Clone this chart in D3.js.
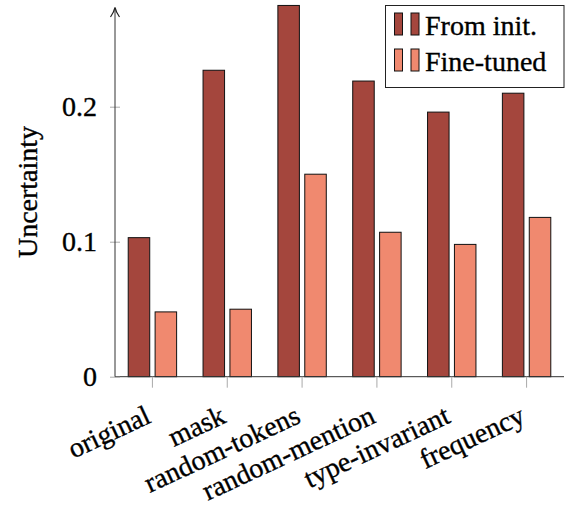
<!DOCTYPE html>
<html>
<head>
<meta charset="utf-8">
<script src="https://cdn.jsdelivr.net/npm/d3@7"></script>
<style>
  html, body { margin: 0; padding: 0; background: #fff; }
  text { font-family: "Liberation Serif", "DejaVu Serif", serif; fill: #000; stroke: #000; stroke-width: 0.35px; }
</style>
</head>
<body>
<div id="chart"></div>
<script>
// data
const categories = ["original", "mask", "random-tokens", "random-mention", "type-invariant", "frequency"];
const seriesNames = ["From init.", "Fine-tuned"];
const fromInit = [0.103, 0.227, 0.275, 0.219, 0.196, 0.210];
const fineTuned = [0.048, 0.050, 0.150, 0.107, 0.098, 0.118];
const yTicks = [0, 0.1, 0.2];
const colors = ["#a4463d", "#f0896f"];

const width = 566, height = 506;

const svg = d3.select("#chart").append("svg")
  .attr("width", width)
  .attr("height", height);

const x = d3.scaleBand().domain(categories).range([115, 564]).padding(0);
const xInner = d3.scaleBand().domain(seriesNames).range([-24.2, 24.2]).paddingInner(0.2);
const y = d3.scaleLinear().domain([0, 0.275]).range([376.7, 5.45]);

const rows = categories.map((c, i) => ({ cat: c, vals: [fromInit[i], fineTuned[i]] }));

// bars
const groups = svg.append("g").selectAll("g")
  .data(rows)
  .join("g")
  .attr("transform", d => `translate(${x(d.cat) + x.bandwidth() / 2},0)`);

groups.selectAll("rect")
  .data(d => d.vals.map((v, k) => ({ name: seriesNames[k], v: v, k: k })))
  .join("rect")
  .attr("x", d => xInner(d.name))
  .attr("width", xInner.bandwidth())
  .attr("y", d => y(d.v))
  .attr("height", d => y(0) - y(d.v))
  .attr("fill", d => colors[d.k])
  .attr("stroke", "#111")
  .attr("stroke-width", 1);

// x axis
const xAxis = d3.axisBottom(x).tickSize(11).tickFormat("");
const gx = svg.append("g")
  .attr("transform", `translate(0,${y(0)})`)
  .call(xAxis);
gx.select(".domain").attr("stroke", "#333").attr("d", `M${x.range()[0]},0H${x.range()[1]}`);
gx.selectAll(".tick line").attr("stroke", "#aaa");

svg.append("g").selectAll("text")
  .data(categories)
  .join("text")
  .attr("transform", d => `translate(${x(d) + x.bandwidth() / 2},422) rotate(-25)`)
  .attr("text-anchor", "end")
  .attr("font-size", 28)
  .text(d => d);

// y axis
const yAxis = d3.axisLeft(y).tickValues(yTicks).tickSize(5)
  .tickFormat(d => d === 0 ? "0" : d3.format(".1f")(d));
const gy = svg.append("g")
  .attr("transform", `translate(115,0)`)
  .call(yAxis);
gy.select(".domain").remove();
gy.selectAll(".tick line").attr("stroke", "#aaa").attr("x1", -5).attr("x2", 5);
gy.selectAll(".tick text")
  .attr("x", -18)
  .attr("font-size", 28)
  .attr("font-family", "Liberation Serif, serif")
  .attr("dy", "0.32em");

svg.append("line")
  .attr("x1", 115).attr("x2", 115)
  .attr("y1", y(0)).attr("y2", 8)
  .attr("stroke", "#333").attr("stroke-width", 1);
svg.append("path")
  .attr("d", "M110.5,17 Q114,12 115,7.5 Q116,12 119.5,17")
  .attr("fill", "none")
  .attr("stroke", "#222")
  .attr("stroke-width", 1.2);

svg.append("text")
  .attr("transform", `translate(37,192) rotate(-90)`)
  .attr("text-anchor", "middle")
  .attr("font-size", 28)
  .text("Uncertainty");

// legend
const legend = svg.append("g");
legend.append("rect")
  .attr("x", 385.5).attr("y", 5.5)
  .attr("width", 178.5).attr("height", 82)
  .attr("fill", "#fff")
  .attr("stroke", "#222")
  .attr("stroke-width", 1);

const items = legend.selectAll("g.item")
  .data(seriesNames)
  .join("g")
  .attr("class", "item")
  .attr("transform", (d, i) => `translate(0,${i * 36})`);

items.selectAll("rect")
  .data((d, i) => [0, 1].map(j => ({ i: i, j: j })))
  .join("rect")
  .attr("x", d => 394.5 + d.j * 16.5)
  .attr("y", 13)
  .attr("width", 8)
  .attr("height", 22)
  .attr("fill", d => colors[d.i])
  .attr("stroke", "#111")
  .attr("stroke-width", 1);

items.append("text")
  .attr("x", 425)
  .attr("y", 35)
  .attr("font-size", 28)
  .text(d => d);
</script>
</body>
</html>
